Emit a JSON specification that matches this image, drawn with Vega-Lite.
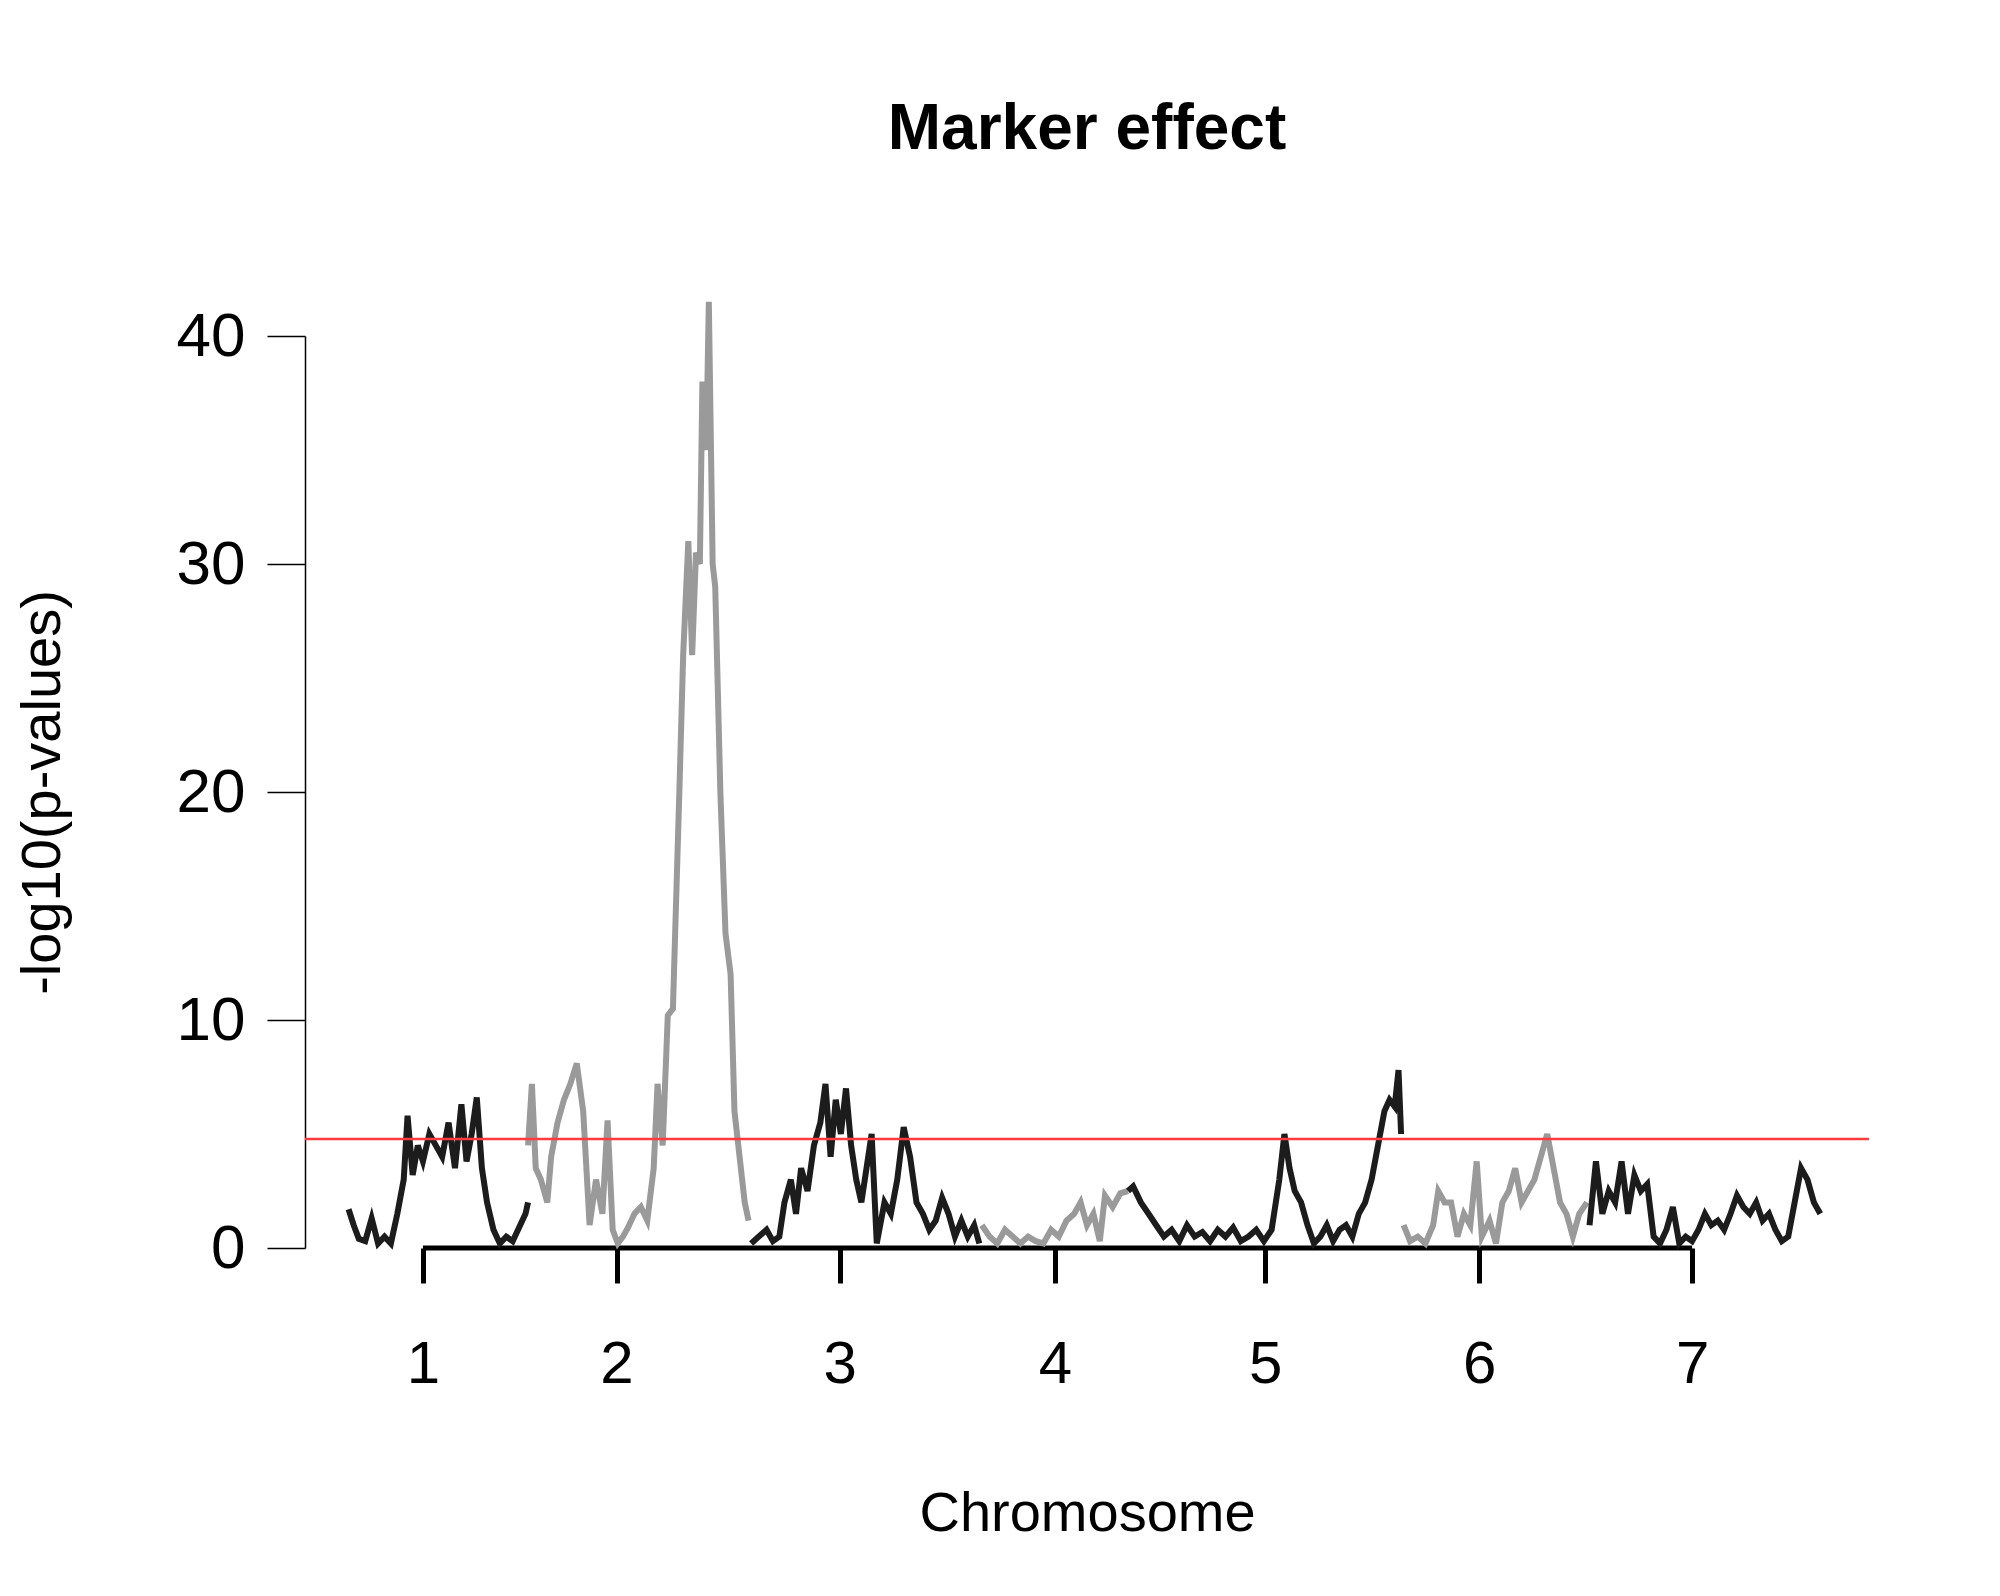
{
  "$schema": "https://vega.github.io/schema/vega-lite/v6.json",
  "width": 1564,
  "height": 912,
  "autosize": "none",
  "padding": {"left": 305, "top": 336, "right": 131, "bottom": 348},
  "background": "white",
  "title": {"text": "Marker effect", "fontSize": 64, "fontWeight": "bold", "font": "Liberation Sans", "anchor": "middle", "offset": 128, "color": "black"},
  "datasets": {
    "markers": [
      {"chr":1,"pos":272,"p":1.7},{"chr":1,"pos":276,"p":1.0},{"chr":1,"pos":280,"p":0.4},{"chr":1,"pos":285,"p":0.3},{"chr":1,"pos":290,"p":1.3},{"chr":1,"pos":295,"p":0.2},{"chr":1,"pos":300,"p":0.5},{"chr":1,"pos":305,"p":0.2},{"chr":1,"pos":310,"p":1.5},{"chr":1,"pos":315,"p":3.0},{"chr":1,"pos":318,"p":5.8},{"chr":1,"pos":322,"p":3.2},{"chr":1,"pos":326,"p":4.5},{"chr":1,"pos":330,"p":3.8},{"chr":1,"pos":335,"p":5.0},{"chr":1,"pos":340,"p":4.5},{"chr":1,"pos":345,"p":4.0},{"chr":1,"pos":350,"p":5.5},{"chr":1,"pos":355,"p":3.5},{"chr":1,"pos":360,"p":6.3},{"chr":1,"pos":364,"p":3.8},{"chr":1,"pos":368,"p":5.0},{"chr":1,"pos":372,"p":6.6},{"chr":1,"pos":376,"p":3.5},{"chr":1,"pos":380,"p":2.0},{"chr":1,"pos":385,"p":0.8},{"chr":1,"pos":390,"p":0.2},{"chr":1,"pos":395,"p":0.5},{"chr":1,"pos":400,"p":0.3},{"chr":1,"pos":405,"p":0.9},{"chr":1,"pos":410,"p":1.5},{"chr":1,"pos":412,"p":2.0},
      {"chr":2,"pos":412,"p":4.5},{"chr":2,"pos":415,"p":7.2},{"chr":2,"pos":418,"p":3.5},{"chr":2,"pos":422,"p":3.0},{"chr":2,"pos":427,"p":2.0},{"chr":2,"pos":430,"p":4.0},{"chr":2,"pos":435,"p":5.5},{"chr":2,"pos":440,"p":6.5},{"chr":2,"pos":445,"p":7.2},{"chr":2,"pos":450,"p":8.1},{"chr":2,"pos":455,"p":6.0},{"chr":2,"pos":460,"p":1.0},{"chr":2,"pos":465,"p":3.0},{"chr":2,"pos":470,"p":1.5},{"chr":2,"pos":474,"p":5.6},{"chr":2,"pos":478,"p":0.8},{"chr":2,"pos":482,"p":0.2},{"chr":2,"pos":486,"p":0.5},{"chr":2,"pos":490,"p":0.9},{"chr":2,"pos":495,"p":1.5},{"chr":2,"pos":500,"p":1.8},{"chr":2,"pos":505,"p":1.2},{"chr":2,"pos":510,"p":3.5},{"chr":2,"pos":513,"p":7.2},{"chr":2,"pos":517,"p":4.5},{"chr":2,"pos":521,"p":10.2},{"chr":2,"pos":525,"p":10.5},{"chr":2,"pos":530,"p":20},{"chr":2,"pos":533,"p":26},{"chr":2,"pos":537,"p":31},{"chr":2,"pos":540,"p":26},{"chr":2,"pos":543,"p":30.5},{"chr":2,"pos":546,"p":30},{"chr":2,"pos":548,"p":38},{"chr":2,"pos":551,"p":35},{"chr":2,"pos":553,"p":41.5},{"chr":2,"pos":556,"p":30},{"chr":2,"pos":558,"p":29},{"chr":2,"pos":562,"p":20},{"chr":2,"pos":566,"p":13.8},{"chr":2,"pos":570,"p":12},{"chr":2,"pos":573,"p":6},{"chr":2,"pos":577,"p":4},{"chr":2,"pos":581,"p":2},{"chr":2,"pos":584,"p":1.2},
      {"chr":3,"pos":586,"p":0.2},{"chr":3,"pos":592,"p":0.5},{"chr":3,"pos":598,"p":0.8},{"chr":3,"pos":603,"p":0.3},{"chr":3,"pos":608,"p":0.5},{"chr":3,"pos":612,"p":2.0},{"chr":3,"pos":617,"p":3.0},{"chr":3,"pos":621,"p":1.5},{"chr":3,"pos":625,"p":3.5},{"chr":3,"pos":630,"p":2.5},{"chr":3,"pos":635,"p":4.5},{"chr":3,"pos":640,"p":5.5},{"chr":3,"pos":644,"p":7.2},{"chr":3,"pos":648,"p":4.0},{"chr":3,"pos":652,"p":6.5},{"chr":3,"pos":656,"p":5.0},{"chr":3,"pos":660,"p":7.0},{"chr":3,"pos":664,"p":4.5},{"chr":3,"pos":668,"p":3.0},{"chr":3,"pos":672,"p":2.0},{"chr":3,"pos":676,"p":3.5},{"chr":3,"pos":680,"p":5.0},{"chr":3,"pos":684,"p":0.2},{"chr":3,"pos":690,"p":2.0},{"chr":3,"pos":695,"p":1.5},{"chr":3,"pos":700,"p":3.0},{"chr":3,"pos":705,"p":5.3},{"chr":3,"pos":710,"p":4.0},{"chr":3,"pos":715,"p":2.0},{"chr":3,"pos":720,"p":1.5},{"chr":3,"pos":725,"p":0.8},{"chr":3,"pos":730,"p":1.2},{"chr":3,"pos":735,"p":2.2},{"chr":3,"pos":740,"p":1.5},{"chr":3,"pos":745,"p":0.5},{"chr":3,"pos":750,"p":1.2},{"chr":3,"pos":755,"p":0.5},{"chr":3,"pos":760,"p":1.0},{"chr":3,"pos":764,"p":0.2},
      {"chr":4,"pos":766,"p":1.0},{"chr":4,"pos":772,"p":0.5},{"chr":4,"pos":778,"p":0.2},{"chr":4,"pos":784,"p":0.8},{"chr":4,"pos":790,"p":0.5},{"chr":4,"pos":796,"p":0.2},{"chr":4,"pos":802,"p":0.5},{"chr":4,"pos":808,"p":0.3},{"chr":4,"pos":814,"p":0.2},{"chr":4,"pos":820,"p":0.8},{"chr":4,"pos":826,"p":0.5},{"chr":4,"pos":832,"p":1.2},{"chr":4,"pos":838,"p":1.5},{"chr":4,"pos":843,"p":2.0},{"chr":4,"pos":848,"p":1.0},{"chr":4,"pos":853,"p":1.5},{"chr":4,"pos":858,"p":0.3},{"chr":4,"pos":862,"p":2.3},{"chr":4,"pos":868,"p":1.8},{"chr":4,"pos":874,"p":2.4},{"chr":4,"pos":880,"p":2.5},
      {"chr":5,"pos":880,"p":2.5},{"chr":5,"pos":884,"p":2.7},{"chr":5,"pos":890,"p":2.0},{"chr":5,"pos":896,"p":1.5},{"chr":5,"pos":902,"p":1.0},{"chr":5,"pos":908,"p":0.5},{"chr":5,"pos":914,"p":0.8},{"chr":5,"pos":920,"p":0.3},{"chr":5,"pos":926,"p":1.0},{"chr":5,"pos":932,"p":0.5},{"chr":5,"pos":938,"p":0.7},{"chr":5,"pos":944,"p":0.3},{"chr":5,"pos":950,"p":0.8},{"chr":5,"pos":956,"p":0.5},{"chr":5,"pos":962,"p":0.9},{"chr":5,"pos":968,"p":0.3},{"chr":5,"pos":974,"p":0.5},{"chr":5,"pos":980,"p":0.8},{"chr":5,"pos":986,"p":0.3},{"chr":5,"pos":992,"p":0.8},{"chr":5,"pos":998,"p":3.0},{"chr":5,"pos":1002,"p":5.0},{"chr":5,"pos":1006,"p":3.5},{"chr":5,"pos":1010,"p":2.5},{"chr":5,"pos":1015,"p":2.0},{"chr":5,"pos":1020,"p":1.0},{"chr":5,"pos":1025,"p":0.2},{"chr":5,"pos":1030,"p":0.5},{"chr":5,"pos":1035,"p":1.0},{"chr":5,"pos":1040,"p":0.3},{"chr":5,"pos":1045,"p":0.8},{"chr":5,"pos":1050,"p":1.0},{"chr":5,"pos":1055,"p":0.5},{"chr":5,"pos":1060,"p":1.5},{"chr":5,"pos":1065,"p":2.0},{"chr":5,"pos":1070,"p":3.0},{"chr":5,"pos":1075,"p":4.5},{"chr":5,"pos":1080,"p":6.0},{"chr":5,"pos":1084,"p":6.5},{"chr":5,"pos":1088,"p":6.2},{"chr":5,"pos":1091,"p":7.8},{"chr":5,"pos":1093,"p":5.0},
      {"chr":6,"pos":1095,"p":1.0},{"chr":6,"pos":1100,"p":0.3},{"chr":6,"pos":1106,"p":0.5},{"chr":6,"pos":1112,"p":0.2},{"chr":6,"pos":1118,"p":1.0},{"chr":6,"pos":1122,"p":2.5},{"chr":6,"pos":1127,"p":2.0},{"chr":6,"pos":1132,"p":2.0},{"chr":6,"pos":1137,"p":0.5},{"chr":6,"pos":1142,"p":1.5},{"chr":6,"pos":1147,"p":1.0},{"chr":6,"pos":1152,"p":3.8},{"chr":6,"pos":1156,"p":0.5},{"chr":6,"pos":1162,"p":1.2},{"chr":6,"pos":1167,"p":0.2},{"chr":6,"pos":1172,"p":2.0},{"chr":6,"pos":1177,"p":2.5},{"chr":6,"pos":1182,"p":3.5},{"chr":6,"pos":1187,"p":2.0},{"chr":6,"pos":1192,"p":2.5},{"chr":6,"pos":1197,"p":3.0},{"chr":6,"pos":1202,"p":4.0},{"chr":6,"pos":1207,"p":5.0},{"chr":6,"pos":1212,"p":3.5},{"chr":6,"pos":1217,"p":2.0},{"chr":6,"pos":1222,"p":1.5},{"chr":6,"pos":1227,"p":0.5},{"chr":6,"pos":1232,"p":1.5},{"chr":6,"pos":1238,"p":2.0},
      {"chr":7,"pos":1240,"p":1.0},{"chr":7,"pos":1245,"p":3.8},{"chr":7,"pos":1250,"p":1.5},{"chr":7,"pos":1255,"p":2.5},{"chr":7,"pos":1260,"p":2.0},{"chr":7,"pos":1265,"p":3.8},{"chr":7,"pos":1270,"p":1.5},{"chr":7,"pos":1275,"p":3.2},{"chr":7,"pos":1280,"p":2.5},{"chr":7,"pos":1285,"p":2.8},{"chr":7,"pos":1290,"p":0.5},{"chr":7,"pos":1295,"p":0.2},{"chr":7,"pos":1300,"p":0.8},{"chr":7,"pos":1305,"p":1.8},{"chr":7,"pos":1310,"p":0.2},{"chr":7,"pos":1315,"p":0.5},{"chr":7,"pos":1320,"p":0.3},{"chr":7,"pos":1325,"p":0.8},{"chr":7,"pos":1330,"p":1.5},{"chr":7,"pos":1335,"p":1.0},{"chr":7,"pos":1340,"p":1.2},{"chr":7,"pos":1345,"p":0.8},{"chr":7,"pos":1350,"p":1.5},{"chr":7,"pos":1355,"p":2.3},{"chr":7,"pos":1360,"p":1.8},{"chr":7,"pos":1365,"p":1.5},{"chr":7,"pos":1370,"p":2.0},{"chr":7,"pos":1375,"p":1.2},{"chr":7,"pos":1380,"p":1.5},{"chr":7,"pos":1385,"p":0.8},{"chr":7,"pos":1390,"p":0.3},{"chr":7,"pos":1395,"p":0.5},{"chr":7,"pos":1400,"p":2.0},{"chr":7,"pos":1405,"p":3.5},{"chr":7,"pos":1410,"p":3.0},{"chr":7,"pos":1415,"p":2.0},{"chr":7,"pos":1420,"p":1.5}
    ],
    "baseline": [{"start": 330, "end": 1320, "y": 0}],
    "threshold": [{"start": 238, "end": 1458, "y": 4.78}]
  },
  "layer": [
    {
      "data": {"name": "baseline"},
      "mark": {"type": "rule", "strokeWidth": 5, "color": "black"},
      "encoding": {
        "x": {"field": "start", "type": "quantitative", "scale": {"domain": [238, 1458], "nice": false, "zero": false},
          "axis": {"values": [330, 481, 655, 823, 987, 1154, 1320], "format": "d",
            "labelExpr": "{'330':'1','481':'2','655':'3','823':'4','987':'5','1154':'6','1320':'7'}[datum.label]",
            "domain": false, "grid": false, "tickColor": "black", "tickWidth": 5, "tickSize": 35,
            "labelFontSize": 60, "labelFont": "Liberation Sans", "labelColor": "black", "labelPadding": 52,
            "title": "Chromosome", "titleFontSize": 56, "titleFont": "Liberation Sans", "titleFontWeight": "normal", "titleColor": "black", "titlePadding": 92}},
        "x2": {"field": "end"},
        "y": {"field": "y", "type": "quantitative"}
      }
    },
    {
      "data": {"name": "markers"},
      "transform": [{"calculate": "datum.chr % 2 == 1 ? 'dark' : 'light'", "as": "shade"}],
      "mark": {"type": "line", "strokeWidth": 6, "strokeJoin": "miter"},
      "encoding": {
        "x": {"field": "pos", "type": "quantitative"},
        "y": {"field": "p", "type": "quantitative", "scale": {"domain": [0, 40], "nice": false},
          "axis": {"values": [0, 10, 20, 30, 40], "grid": false, "domainColor": "black", "domainWidth": 1.5,
            "tickColor": "black", "tickWidth": 1.5, "tickSize": 38, "labelFontSize": 62, "labelFont": "Liberation Sans", "labelColor": "black", "labelPadding": 22,
            "title": "-log10(p-values)", "titleFontSize": 56, "titleFont": "Liberation Sans", "titleFontWeight": "normal", "titleColor": "black", "titlePadding": 105}},
        "detail": {"field": "chr", "type": "nominal"},
        "color": {"field": "shade", "type": "nominal", "scale": {"domain": ["dark", "light"], "range": ["#1c1c1c", "#9a9a9a"]}, "legend": null}
      }
    },
    {
      "data": {"name": "threshold"},
      "mark": {"type": "rule", "strokeWidth": 2.5, "color": "#ff3b3b"},
      "encoding": {
        "x": {"field": "start", "type": "quantitative"},
        "x2": {"field": "end"},
        "y": {"field": "y", "type": "quantitative"}
      }
    }
  ],
  "config": {"view": {"stroke": null}}
}
